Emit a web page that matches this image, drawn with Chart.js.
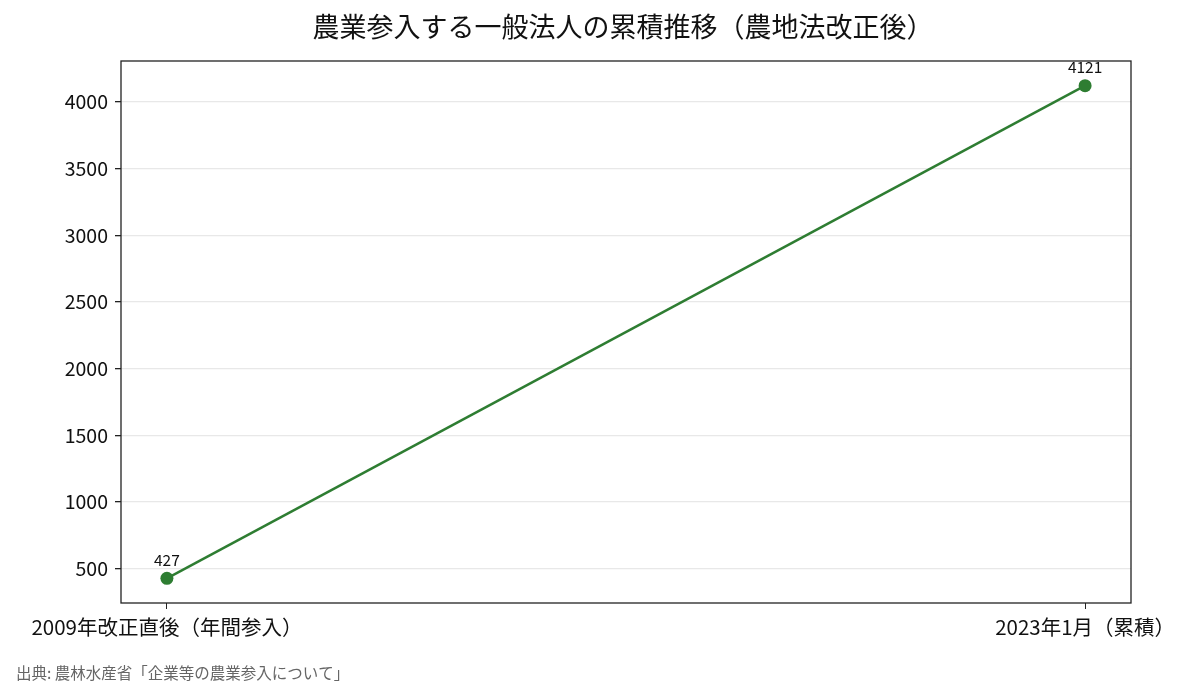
<!DOCTYPE html>
<html>
<head>
<meta charset="utf-8">
<script src="https://cdn.jsdelivr.net/npm/chart.js@4"></script>
<style>
  html, body { margin: 0; padding: 0; background: #fff; }
  #wrap { width: 1191px; height: 698px; }
</style>
</head>
<body>
<div id="wrap"><canvas id="chart" width="1191" height="698"></canvas></div>
<script>
// データ
const categories = ['2009年改正直後（年間参入）', '2023年1月（累積）'];
const values = [427, 4121];
const yTicks = [500, 1000, 1500, 2000, 2500, 3000, 3500, 4000];
const titleText = '農業参入する一般法人の累積推移（農地法改正後）';
const sourceText = '出典: 農林水産省「企業等の農業参入について」';

const FONT = "'Noto Sans CJK JP', 'Noto Sans', sans-serif";
const GREEN = '#2e7d32';

// 余白（matplotlib風に5%）
const span = Math.max(...values) - Math.min(...values);
const yMin = Math.min(...values) - span * 0.05;
const yMax = Math.max(...values) + span * 0.05;

// 枠・タイトル・出典・数値ラベル
const decorPlugin = {
    id: 'decor',
    afterDatasetsDraw(chart) {
        const ctx = chart.ctx;
        const a = chart.chartArea;
        ctx.save();
        ctx.strokeStyle = '#222';
        ctx.lineWidth = 1.3;
        ctx.strokeRect(a.left, a.top, a.right - a.left, a.bottom - a.top);

        // 数値ラベル
        const meta = chart.getDatasetMeta(0);
        ctx.fillStyle = '#111';
        ctx.font = '15.5px ' + FONT;
        ctx.textAlign = 'center';
        ctx.textBaseline = 'bottom';
        meta.data.forEach((pt, i) => {
            ctx.fillText(String(values[i]), pt.x, pt.y - 11);
        });
        ctx.restore();
    },
    afterDraw(chart) {
        const ctx = chart.ctx;
        ctx.save();
        ctx.fillStyle = '#111';
        ctx.font = '27px ' + FONT;
        ctx.textAlign = 'center';
        ctx.textBaseline = 'middle';
        ctx.fillText(titleText, 623, 27);

        ctx.fillStyle = '#666';
        ctx.font = '15.5px ' + FONT;
        ctx.textAlign = 'left';
        ctx.fillText(sourceText, 16, 673);
        ctx.restore();
    }
};

new Chart(document.getElementById('chart'), {
    type: 'line',
    data: {
        datasets: [{
            data: values.map((v, i) => ({ x: i, y: v })),
            borderColor: GREEN,
            backgroundColor: GREEN,
            borderWidth: 2.5,
            pointRadius: 6.5,
            pointHoverRadius: 6.5,
            pointBackgroundColor: GREEN,
            pointBorderWidth: 0,
            tension: 0
        }]
    },
    options: {
        responsive: false,
        animation: false,
        devicePixelRatio: 1,
        layout: { padding: { top: 61, right: 60, bottom: 0, left: 0 } },
        plugins: {
            legend: { display: false },
            tooltip: { enabled: false },
            title: { display: false }
        },
        scales: {
            x: {
                type: 'linear',
                min: -0.05,
                max: 1.05,
                afterBuildTicks: s => { s.ticks = categories.map((c, i) => ({ value: i })); },
                afterFit: s => { s.height = 95; },
                ticks: {
                    callback: v => categories[v],
                    color: '#111',
                    font: { family: FONT, size: 20.5 },
                    padding: 6,
                    maxRotation: 0,
                    autoSkip: false
                },
                grid: {
                    drawOnChartArea: false,
                    tickColor: '#222',
                    tickLength: 6
                },
                border: { display: false }
            },
            y: {
                min: yMin,
                max: yMax,
                afterBuildTicks: s => { s.ticks = yTicks.map(v => ({ value: v })); },
                afterFit: s => { s.width = 121; },
                ticks: {
                    callback: v => String(v),
                    color: '#111',
                    font: { family: FONT, size: 19.5 },
                    padding: 7
                },
                grid: {
                    color: '#e8e8e8',
                    lineWidth: 1.3,
                    tickColor: '#222',
                    tickLength: 6
                },
                border: { display: false }
            }
        }
    },
    plugins: [decorPlugin]
});
</script>
</body>
</html>
